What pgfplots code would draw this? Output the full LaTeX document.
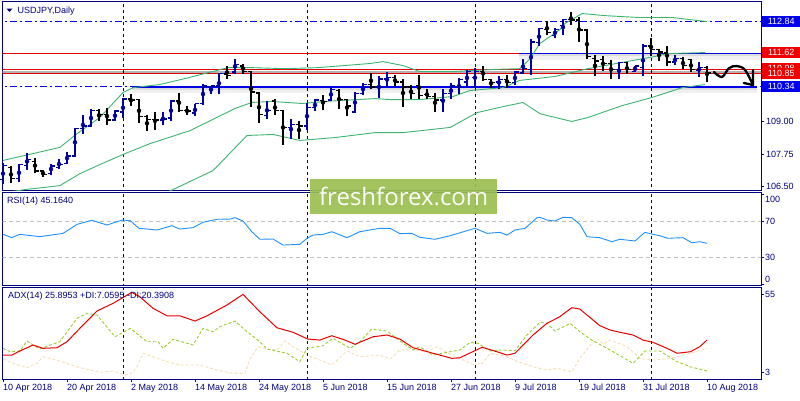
\documentclass[border=0pt]{standalone}
\usepackage{pgfplots}
\pgfplotsset{compat=1.18}
\usepackage{pgfplotstable}
\usepackage{fontspec}
\setmainfont{Liberation Sans}
\newfontfamily\wmfont{Open Sans}

\definecolor{navy}{RGB}{0,0,128}
\definecolor{upbar}{RGB}{0,0,160}
\definecolor{bbgreen}{RGB}{60,179,113}
\definecolor{rsiblue}{RGB}{30,144,255}
\definecolor{adxred}{RGB}{230,0,0}
\definecolor{diplus}{RGB}{154,205,50}
\definecolor{diminus}{RGB}{245,222,179}
\definecolor{lvlblue}{RGB}{0,0,230}
\definecolor{lvlred}{RGB}{230,0,0}
\definecolor{boxblue}{RGB}{0,0,235}
\definecolor{boxred}{RGB}{240,0,0}
\definecolor{wmgreen}{RGB}{155,190,80}
\definecolor{silverc}{RGB}{192,192,192}

% open / close ticks of an OHLC bar
\pgfdeclareplotmark{otick}{\pgfpathmoveto{\pgfqpoint{-3.5pt}{0pt}}\pgfpathlineto{\pgfqpoint{0pt}{0pt}}\pgfusepathqstroke}
\pgfdeclareplotmark{ctick}{\pgfpathmoveto{\pgfqpoint{0pt}{0pt}}\pgfpathlineto{\pgfqpoint{3.5pt}{0pt}}\pgfusepathqstroke}

% bar index, open, high, low, close
\pgfplotstableread{
i o h l c
0 106.77 107.41 106.58 107.31
2 106.80 107.38 106.67 107.35
3 107.31 107.77 107.15 107.54
6 107.00 107.38 106.96 107.28
7 107.22 107.54 107.18 107.35
8 107.38 107.83 107.35 107.67
9 107.67 108.76 107.64 108.72
10 108.72 109.23 108.50 108.82
11 108.82 109.46 108.80 109.43
14 109.05 109.43 109.01 109.40
15 109.36 109.91 109.14 109.87
20 109.06 109.36 108.85 109.10
21 109.14 109.82 109.01 109.78
24 109.33 109.69 109.20 109.68
25 109.68 110.46 109.65 110.36
26 110.30 110.38 110.07 110.36
27 110.36 110.87 110.07 110.85
29 110.90 111.42 110.83 111.19
33 109.23 109.78 109.08 109.43
36 108.76 109.08 108.33 108.88
38 108.82 109.72 108.69 109.53
39 109.53 109.87 109.40 109.82
41 109.82 110.30 109.78 110.23
44 109.36 110.13 109.33 110.08
45 110.08 110.49 110.00 110.42
47 110.33 110.74 109.91 110.64
48 110.64 110.90 110.33 110.68
55 109.82 110.23 109.36 110.08
56 110.08 110.49 109.87 110.38
57 110.33 110.68 110.04 110.62
58 110.51 110.97 110.38 110.93
59 110.68 111.07 110.30 110.93
62 110.51 110.74 110.26 110.62
64 110.49 110.93 110.42 110.90
65 110.87 111.41 110.81 111.03
66 111.00 112.18 110.77 112.05
67 112.03 112.60 111.92 112.57
69 112.31 112.60 112.22 112.54
70 112.69 112.95 112.31 112.92
77 111.00 111.28 110.62 111.26
79 110.93 111.15 110.90 111.13
80 111.07 111.96 110.74 111.90
84 111.28 111.54 111.19 111.41
87 110.97 111.28 110.72 111.07
}\upbars

\pgfplotstableread{
i o h l c
1 107.24 107.28 106.64 106.80
4 107.47 107.60 107.00 107.09
5 107.09 107.15 106.87 106.96
12 109.42 109.46 109.01 109.27
13 109.27 109.53 108.88 109.05
16 109.87 110.04 109.59 109.82
17 109.85 109.87 108.95 109.18
18 109.18 109.23 108.63 109.08
19 109.08 109.36 108.69 109.06
22 109.78 110.08 109.36 109.43
23 109.43 109.59 109.23 109.40
28 110.83 111.13 110.64 110.77
30 111.13 111.23 110.83 110.93
31 110.93 110.96 109.55 110.13
32 110.10 110.15 108.95 109.27
34 109.78 109.85 109.23 109.43
35 109.43 109.46 108.08 108.76
37 108.88 109.01 108.33 108.82
40 109.81 110.00 109.46 109.77
42 110.19 110.23 109.49 109.85
43 109.85 109.87 109.20 109.59
46 110.42 110.87 110.26 110.33
49 110.68 110.77 110.38 110.51
50 110.51 110.62 109.57 110.33
51 110.33 110.42 109.87 110.08
52 110.38 110.77 109.85 110.00
53 110.04 110.23 109.85 109.95
54 109.95 110.08 109.36 109.82
60 110.93 111.15 110.55 110.62
61 110.62 110.64 110.30 110.49
63 110.62 110.77 110.30 110.49
68 112.54 112.86 112.31 112.41
71 112.92 113.20 112.73 112.90
72 112.90 113.03 112.05 112.51
73 112.51 112.54 111.41 111.49
74 111.41 111.54 110.74 111.32
75 111.38 111.51 110.93 111.23
76 111.23 111.38 110.64 111.00
78 111.26 111.28 110.81 111.00
81 111.90 112.22 111.51 111.77
82 111.77 111.80 111.32 111.67
83 111.64 111.92 111.15 111.28
85 111.41 111.49 111.00 111.15
86 111.38 111.41 110.90 111.00
88 111.07 111.15 110.51 110.87
}\downbars

\tikzset{
  sep/.style={navy, line width=0.9pt, dash pattern=on 3pt off 3pt},
  lbl/.style={font=\fontsize{9}{10}\selectfont, text=navy, inner sep=0pt, anchor=west},
  pbox/.style={font=\fontsize{9}{10}\selectfont, text=white, inner sep=0pt,
    minimum width=38pt, minimum height=11pt, anchor=west, xshift=1pt},
}
\pgfplotsset{
  panel/.style={
    scale only axis, width=758.5pt, anchor=north west,
    xmin=-0.0625, xmax=94.75, clip mode=individual,
    axis line style={navy, line width=1pt},
    xtick=\empty, ytick pos=right, yticklabels={},
    tick align=outside, major tick length=3pt,
    tick style={navy, line width=0.8pt},
  },
  ohlc/.style={only marks, mark=none,
    error bars/.cd, y dir=both, y explicit, error mark=none,
    error bar style={#1, line width=1.4pt}},
}

\begin{document}
\begin{tikzpicture}
\path[use as bounding box] (0pt,0pt) rectangle (800pt,-400pt);

%% price panel
\begin{axis}[panel, at={(2.5pt,-1.7pt)}, height=188.3pt,
    ymin=106.363, ymax=113.606,
    ytick={106.5,107.75,109,110.34,110.85,111.62,112.84}]
  % shadows of the drawn levels
  \addplot[black, opacity=0.06, line width=7pt] coordinates {(64.5,111.50)(94.75,111.50)};
  \addplot[black, opacity=0.08, line width=3pt] coordinates {(64.5,111.56)(94.75,111.56)};
  \addplot[black, opacity=0.06, line width=7pt] coordinates {(16.1,110.22)(94.3,110.22)};
  \addplot[black, opacity=0.08, line width=3pt] coordinates {(16.1,110.28)(94.3,110.28)};
  \addplot[black!30, line width=2pt] coordinates {(-1,110.92)(95,110.92)};
  % levels
  \addplot[lvlblue, line width=1pt, dash pattern=on 7pt off 3pt on 2pt off 3pt] coordinates {(-1,112.84)(95,112.84)};
  \addplot[lvlred, line width=1pt] coordinates {(-1,111.62)(64.5,111.62)};
  \addplot[lvlblue, line width=1pt] coordinates {(64.5,111.62)(95,111.62)};
  \addplot[lvlred, line width=1pt] coordinates {(-1,110.99)(95,110.99)};
  \addplot[lvlred, line width=1pt] coordinates {(-1,110.85)(95,110.85)};
  \addplot[lvlblue, line width=1pt, dash pattern=on 7pt off 3pt on 2pt off 3pt] coordinates {(-1,110.34)(95,110.34)};
  \addplot[lvlblue, line width=2pt] coordinates {(16.1,110.34)(94.3,110.34)};
  % month separators
  \addplot[sep] coordinates {(15,100)(15,120)};
  \addplot[sep] coordinates {(38,100)(38,120)};
  \addplot[sep] coordinates {(59,100)(59,120)};
  \addplot[sep] coordinates {(81,100)(81,120)};
  % Bollinger bands
  \addplot[bbgreen, line width=0.9pt] coordinates {
    (0,107.50)(7.1,108.00)(9.25,108.53)(12.1,109.15)(15,110.11)(16.25,110.30)
    (19.6,110.42)(22.75,110.65)(28.1,111.07)(31.1,111.07)(35.25,111.03)(39.4,111.07)
    (45.9,111.23)(47.5,111.30)(50,111.15)(52.1,110.92)(56.25,110.92)(61.25,111.00)
    (64.6,111.03)(65.9,111.42)(67.1,112.00)(68.4,112.27)(69.6,112.53)(70.25,112.77)
    (72.4,113.15)(75.25,113.07)(79.4,113.00)(83.6,113.00)(88,112.84)};
  \addplot[bbgreen, line width=0.9pt] coordinates {
    (0,106.25)(2.75,106.38)(7.1,106.53)(9.6,106.99)(12.1,107.34)(15,107.73)
    (18.4,108.15)(23.4,108.65)(29,109.50)(31.1,109.73)(33.6,109.77)(37.4,109.69)
    (40.25,109.77)(46.5,109.88)(48.4,109.84)(52.1,109.84)(56.25,109.96)(58.4,110.19)
    (62.5,110.30)(64.6,110.58)(69,110.73)(73.1,111.03)(77.4,111.27)(81.5,111.50)
    (83.1,111.61)(87.75,111.65)};
  \addplot[bbgreen, line width=0.9pt] coordinates {
    (17,105.80)(21.25,106.38)(26.25,107.11)(30.5,108.46)(33.75,108.50)(37.1,108.27)
    (41.5,108.38)(46.5,108.57)(50,108.57)(55.9,108.77)(59.25,109.34)(62.5,109.57)
    (65,109.73)(67.1,109.30)(69.6,109.11)(71.1,109.00)(73.1,109.15)(77.4,109.61)
    (81.1,109.92)(84.9,110.30)(87.75,110.42)};
  % OHLC bars
  \addplot[upbar, ohlc=upbar] table[x=i, y expr={(\thisrow{h}+\thisrow{l})/2},
      y error expr={(\thisrow{h}-\thisrow{l})/2}] {\upbars};
  \addplot[upbar, only marks, mark=otick, mark options={line width=1.4pt}] table[x=i, y=o] {\upbars};
  \addplot[upbar, only marks, mark=ctick, mark options={line width=1.4pt}] table[x=i, y=c] {\upbars};
  \addplot[black, ohlc=black] table[x=i, y expr={(\thisrow{h}+\thisrow{l})/2},
      y error expr={(\thisrow{h}-\thisrow{l})/2}] {\downbars};
  \addplot[black, only marks, mark=otick, mark options={line width=1.4pt}] table[x=i, y=o] {\downbars};
  \addplot[black, only marks, mark=ctick, mark options={line width=1.4pt}] table[x=i, y=c] {\downbars};
  % hand drawn arrow
  \draw[black, line width=2.3pt, line cap=round, line join=round]
    plot[smooth, tension=0.6] coordinates {(88.875,110.90)(89.875,110.71)(90.75,111.05)
      (91.75,111.13)(92.75,110.98)(93.75,110.40)};
  \draw[black, line width=2.3pt, line cap=round, line join=round]
    (93.75,110.98) -- (93.75,110.40) -- (92.6,110.48);
  % right scale
  \node[lbl, xshift=5pt] at (axis cs:94.75,109) {109.00};
  \node[lbl, xshift=5pt] at (axis cs:94.75,107.75) {107.75};
  \node[lbl, xshift=5pt] at (axis cs:94.75,106.5) {106.50};
\end{axis}

%% RSI panel
\begin{axis}[panel, at={(2.5pt,-192.3pt)}, height=92.7pt,
    ymin=-1.1, ymax=101.9, ytick={0,30,70,100}]
  \addplot[silverc, line width=0.9pt, dash pattern=on 4pt off 3pt] coordinates {(-1,70)(95,70)};
  \addplot[silverc, line width=0.9pt, dash pattern=on 4pt off 3pt] coordinates {(-1,30)(95,30)};
  \addplot[sep] coordinates {(15,-10)(15,110)};
  \addplot[sep] coordinates {(38,-10)(38,110)};
  \addplot[sep] coordinates {(59,-10)(59,110)};
  \addplot[sep] coordinates {(81,-10)(81,110)};
  \addplot[rsiblue, line width=0.9pt] coordinates {
    (0,55.2)(1.1,51.5)(2.1,55.2)(4.6,52.6)(7.5,56.3)(9.25,66.3)(11.1,70.8)(13,65.6)
    (14.9,71.1)(15.9,70.4)(17,61.9)(19.25,60.0)(21.1,64.8)(22.1,61.1)(23.75,62.6)
    (25,68.6)(26.75,71.9)(28.4,72.2)(29,73.7)(30,70.0)(31.1,58.1)(32.1,49.7)
    (33.75,50.0)(35,43.3)(37.1,44.1)(38,50.8)(38.75,54.4)(40,55.2)(41.1,58.1)
    (43,51.5)(44.6,58.1)(47.1,61.9)(48.4,61.9)(49.6,56.0)(51.1,56.3)(52.1,51.9)
    (54,49.7)(55.9,53.7)(59,61.9)(60.5,56.3)(62.1,57.4)(63,54.4)(64,60.0)
    (65.25,61.9)(66.75,73.7)(67.1,74.1)(68,71.1)(69,70.0)(70,74.1)(71.1,73.7)
    (72.1,66.3)(73,52.6)(74.6,51.5)(76.1,47.0)(77.1,49.7)(79,47.8)(79.6,52.6)
    (80.25,57.4)(81.25,55.2)(82.1,53.7)(83.1,50.8)(85,51.5)(86.1,45.9)(87.1,47.0)
    (88,45.2)};
  \node[lbl, xshift=4pt] at (rel axis cs:1,0.928) {100};
  \node[lbl, xshift=4pt] at (rel axis cs:1,0.690) {70};
  \node[lbl, xshift=4pt] at (rel axis cs:1,0.302) {30};
  \node[lbl, xshift=4pt] at (rel axis cs:1,0.065) {0};
\end{axis}

%% ADX panel
\begin{axis}[panel, at={(2.5pt,-287.3pt)}, height=91.7pt,
    ymin=-1.47, ymax=59.7, ytick={3,55},
    xtick={0,8,...,88}, xtick pos=left,
    xticklabels={10 Apr 2018,20 Apr 2018,2 May 2018,14 May 2018,24 May 2018,5 Jun 2018,
      15 Jun 2018,27 Jun 2018,9 Jul 2018,19 Jul 2018,31 Jul 2018,10 Aug 2018},
    xticklabel style={anchor=north west, inner sep=0pt, yshift=-2pt,
      font=\fontsize{9}{10}\selectfont, text=navy}]
  \addplot[sep] coordinates {(15,-10)(15,70)};
  \addplot[sep] coordinates {(38,-10)(38,70)};
  \addplot[sep] coordinates {(59,-10)(59,70)};
  \addplot[sep] coordinates {(81,-10)(81,70)};
  % -DI
  \addplot[diminus, line width=0.9pt, dash pattern=on 3pt off 2pt] coordinates {
    (0,11.9)(1.25,9.0)(3,6.1)(4.25,9.0)(5,13.4)(7.1,10.5)(9.25,6.7)(12.1,3.0)
    (13.75,3.9)(15.25,1.2)(16.1,2.3)(16.75,6.7)(17.5,15.7)(18.75,13.4)(20.5,10.1)
    (22.1,7.9)(24.6,7.9)(26.75,4.5)(28.75,2.3)(30.25,2.3)(30.9,12.3)(31.9,20.1)
    (33,18.5)(34.25,17.9)(35.25,23.9)(36.25,20.1)(38,14.5)(39.6,11.2)(41.1,7.9)
    (43,17.2)(44.6,13.4)(47.1,14.5)(48.4,11.9)(49.6,18.0)(51.25,17.9)(53,16.7)
    (54.25,20.1)(56.25,14.1)(58.75,8.3)(59.9,9.0)(60.9,15.7)(62.5,14.1)(64.6,9.7)
    (66.25,6.7)(68,4.5)(69.25,5.6)(71.1,3.4)(72.1,12.3)(73.6,22.3)(74.4,25.2)
    (75,21.7)(75.9,24.5)(78,20.1)(79.6,12.3)(81.25,11.2)(83,11.9)(84.25,13.4)
    (85.9,15.7)(88,19.0)};
  % +DI
  \addplot[diplus, line width=0.9pt, dash pattern=on 3pt off 2pt] coordinates {
    (0,19.0)(0.9,16.7)(2.1,17.2)(3,23.9)(3.75,21.2)(4.6,18.5)(5.9,21.2)(7.1,23.4)
    (9.25,39.0)(10.5,42.3)(11.75,41.2)(14,26.7)(15.9,32.3)(18,23.4)(19.4,23.4)
    (20,19.0)(21.25,25.0)(23.75,21.2)(25,32.3)(26.25,30.1)(27.1,33.4)(29,37.2)
    (30.5,30.1)(32.1,23.4)(33,18.5)(35.5,15.7)(37.1,10.1)(38,19.0)(40,20.7)
    (41.25,25.7)(43.4,19.0)(44.6,23.4)(46.1,31.9)(48,30.5)(49.6,24.0)(51.25,17.9)
    (52.1,20.1)(53.75,14.5)(55.9,16.7)(57.1,17.9)(58.4,23.0)(59.4,22.3)(60.9,17.2)
    (62.1,17.9)(64,17.4)(65.5,27.9)(67.1,36.3)(68,35.7)(69,30.5)(70.9,35.7)
    (72.1,30.1)(73.6,24.5)(75.5,19.0)(77.1,14.1)(78.75,9.0)(80.25,17.2)(82.1,17.2)
    (84.25,10.1)(85.9,6.7)(88,3.9)};
  % ADX
  \addplot[adxred, line width=1pt] coordinates {
    (0,14.5)(1.1,14.5)(2.1,17.2)(3.75,21.2)(5,19.0)(6.75,19.4)(8,23.4)(9.6,32.3)
    (11.75,43.9)(13.75,49.0)(16.1,56.3)(17.1,53.4)(18.75,45.7)(20.5,40.7)(22.1,40.7)
    (24,37.2)(25.5,40.7)(28,47.9)(30,55.0)(32.1,43.4)(34.25,32.7)(36.25,29.7)
    (38.1,25.2)(39.6,24.5)(41.1,27.4)(42.75,24.5)(44,21.7)(46.25,26.7)(48,27.9)
    (49.6,25.2)(51.25,19.4)(53.75,15.7)(56.1,12.3)(57.1,12.7)(59.9,19.7)(61.75,16.7)
    (63,14.5)(64,15.7)(66.25,27.9)(68,35.7)(69.6,40.1)(71.1,46.1)(72.1,45.2)
    (74.6,34.1)(75.9,31.2)(77.1,29.7)(78.75,27.9)(80,24.5)(81.25,23.0)(83,19.0)
    (84.25,15.7)(85.9,16.7)(87.1,20.1)(88,24.5)};
  \node[lbl, xshift=4pt] at (rel axis cs:1,0.927) {55};
  \node[lbl, xshift=4pt] at (rel axis cs:1,0.076) {3};
\end{axis}

%% price boxes on the right scale
\node[pbox, fill=boxblue] at (761pt,-21pt) {112.84};
\node[pbox, fill=boxred] at (761pt,-52.5pt) {111.62};
\node[pbox, fill=boxred] at (761pt,-68.5pt) {110.98};
\node[pbox, fill=boxred] at (761pt,-73pt) {110.85};
\node[pbox, fill=boxblue] at (761pt,-86pt) {110.34};

%% panel titles
\fill[navy] (6.5pt,-8.5pt) -- (12.5pt,-8.5pt) -- (9.5pt,-12pt) -- cycle;
\node[lbl] at (17.5pt,-10.7pt) {USDJPY,Daily};
\node[lbl] at (7pt,-201pt) {RSI(14) 45.1640};
\node[lbl] at (8pt,-296pt) {ADX(14) 25.8953 +DI:7.0595 -DI:20.3908};

%% watermark
\node[fill=wmgreen, fill opacity=0.92, text opacity=0.95, text=white,
  minimum width=187pt, minimum height=35pt, inner sep=0pt, anchor=north west]
  at (310pt,-179pt) {\wmfont\fontsize{24}{24}\selectfont freshforex.com};
\end{tikzpicture}
\end{document}
